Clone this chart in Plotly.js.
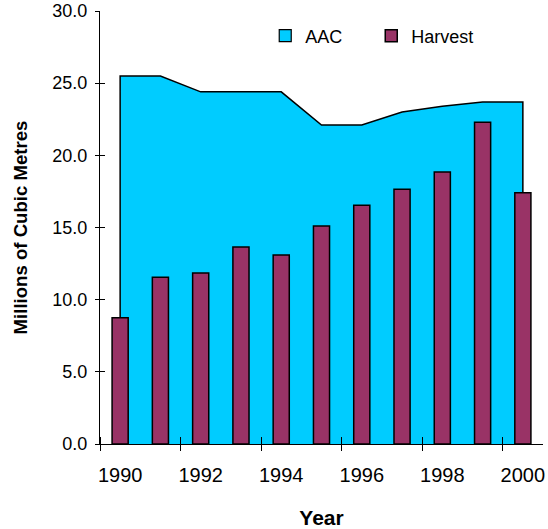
<!DOCTYPE html>
<html>
<head>
<meta charset="utf-8">
<script src="https://cdn.plot.ly/plotly-3.0.1.min.js"></script>
<style>
  html, body { margin: 0; padding: 0; background: #fff; }
  #chart { width: 548px; height: 529px; }
</style>
</head>
<body>
<div id="chart"></div>
<script>
// Annual allowable cut (AAC) versus actual harvest, millions of cubic metres
const years   = [1990, 1991, 1992, 1993, 1994, 1995, 1996, 1997, 1998, 1999, 2000];
const aac     = [25.5, 25.5, 24.4, 24.4, 24.4, 22.1, 22.1, 23.0, 23.4, 23.7, 23.7];
const harvest = [8.75, 11.55, 11.85, 13.65, 13.1, 15.1, 16.55, 17.65, 18.85, 22.3, 17.4];

const yearLabels = [1990, 1992, 1994, 1996, 1998, 2000];
const yTicks = [0, 5, 10, 15, 20, 25, 30];

const CYAN = '#00CCFF';
const PLUM = '#993366';
const FONT = 'Liberation Sans, Arial, sans-serif';

// category boundaries, where the x tick marks sit
const bounds = [];
for (let i = 0; i < years.length; i += 2) bounds.push(years[i] - 0.5);

const xRange = [years[0] - 0.5, years[years.length - 1] + 0.5];
const yRange = [0, 30];

// AAC area closed down to the axis at both ends
const areaX = [years[0]].concat(years, [years[years.length - 1]]);
const areaY = [0].concat(aac, [0]);

const traces = [
  {
    type: 'scatter', mode: 'lines',
    x: areaX, y: areaY,
    fill: 'toself', fillcolor: CYAN,
    line: { color: '#000', width: 1.5 },
    xaxis: 'x', yaxis: 'y',
    showlegend: false, hoverinfo: 'skip'
  },
  {
    type: 'bar', name: 'AAC',
    x: [null], y: [null],
    marker: { color: CYAN, line: { color: '#000', width: 1.2 } },
    xaxis: 'x', yaxis: 'y'
  },
  {
    type: 'bar', name: 'Harvest',
    x: years, y: harvest, width: 0.4,
    marker: { color: PLUM, line: { color: '#000', width: 1.5 } },
    xaxis: 'x2', yaxis: 'y2'
  }
];

const layout = {
  width: 548, height: 529,
  margin: { l: 100, r: 5, t: 11, b: 85 },
  paper_bgcolor: '#fff', plot_bgcolor: 'rgba(0,0,0,0)',
  font: { family: FONT, size: 18, color: '#000' },
  barmode: 'overlay',
  showlegend: true,
  legend: {
    orientation: 'h', x: 0.373, xanchor: 'left', y: 0.985, yanchor: 'top',
    font: { family: FONT, size: 18, color: '#000' },
    bgcolor: 'rgba(0,0,0,0)', entrywidth: 61, itemclick: false
  },
  xaxis: {
    range: xRange, fixedrange: true,
    showline: true, linecolor: '#000', linewidth: 1,
    showgrid: false, zeroline: false,
    tickmode: 'array', tickvals: yearLabels, ticktext: yearLabels.map(String),
    ticks: '', ticklabelstandoff: 13,
    tickfont: { family: FONT, size: 20, color: '#000' },
    minor: { tickmode: 'array', tickvals: bounds, ticks: 'inside', ticklen: 7, tickcolor: '#000', tickwidth: 1, showgrid: false },
    title: { text: '<b>Year</b>', font: { family: FONT, size: 21, color: '#000' }, standoff: 25 }
  },
  xaxis2: {
    range: xRange, overlaying: 'x', anchor: 'y2', side: 'bottom',
    showline: false, showgrid: false, zeroline: false,
    tickmode: 'array', tickvals: bounds, ticks: 'outside', ticklen: 6,
    tickcolor: '#000', tickwidth: 1, showticklabels: false
  },
  yaxis: {
    range: yRange, fixedrange: true,
    showline: true, linecolor: '#000', linewidth: 1,
    showgrid: false, zeroline: false,
    tickmode: 'array', tickvals: yTicks, ticktext: yTicks.map(v => v.toFixed(1)),
    ticks: 'outside', ticklen: 4, tickcolor: '#000', tickwidth: 1,
    ticklabelstandoff: 4,
    tickfont: { family: FONT, size: 18, color: '#000' },
    title: { text: '<b>Millions of Cubic Metres</b>', font: { family: FONT, size: 18.6, color: '#000' }, standoff: 19 }
  },
  yaxis2: {
    range: yRange, overlaying: 'y', anchor: 'x2', side: 'left',
    showline: false, showgrid: false, zeroline: false,
    tickmode: 'array', tickvals: yTicks, ticks: 'inside', ticklen: 5,
    tickcolor: '#000', tickwidth: 1, showticklabels: false
  }
};

Plotly.newPlot('chart', traces, layout, { staticPlot: true, displayModeBar: false });
</script>
</body>
</html>
